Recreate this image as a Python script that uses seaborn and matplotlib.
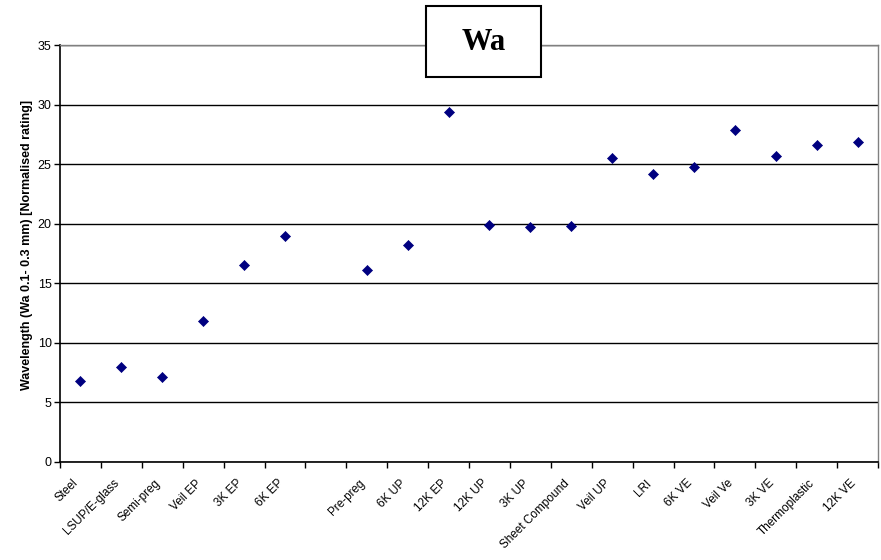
import numpy as np
import pandas as pd
import matplotlib
matplotlib.use("Agg")
import matplotlib.pyplot as plt
import matplotlib.transforms as mtransforms
from matplotlib.patches import Rectangle
import seaborn as sns

# categories in chart order ("" is the empty slot after 6K EP)
categories = ["Steel", "LSUP/E-glass", "Semi-preg", "Veil EP", "3K EP", "6K EP", "",
              "Pre-preg", "6K UP", "12K EP", "12K UP", "3K UP", "Sheet Compound",
              "Veil UP", "LRI", "6K VE", "Veil Ve", "3K VE", "Thermoplastic", "12K VE"]
materials = [c for c in categories if c]
wa_values = [6.8, 8.0, 7.1, 11.8, 16.5, 19.0,
             16.1, 18.2, 29.4, 19.9, 19.7, 19.8,
             25.5, 24.2, 24.8, 27.9, 25.7, 26.6, 26.9]

df = pd.DataFrame({"material": materials, "wa": wa_values})
df["pos"] = [categories.index(m) for m in df["material"]]

sns.set_style("white")
plt.rcParams["font.family"] = ["Liberation Sans", "DejaVu Sans"]
plt.rcParams["text.color"] = "black"
plt.rcParams["xtick.color"] = "black"
plt.rcParams["ytick.color"] = "black"
plt.rcParams["axes.labelcolor"] = "black"

fig = plt.figure(figsize=(8.81, 5.6), dpi=100)
ax = fig.add_axes([60 / 881, 1 - 462 / 560, 818 / 881, 417 / 560])

sns.scatterplot(data=df, x="pos", y="wa", marker="D", s=26, color="#000080",
                edgecolor="#000080", linewidth=0.5, ax=ax, zorder=3, legend=False)

ax.set_xlim(-0.5, len(categories) - 0.5)
ax.set_ylim(0, 35)
ax.set_yticks(np.arange(0, 36, 5))
ax.yaxis.grid(True, color="black", linewidth=1)
ax.set_axisbelow(True)

# labels at category centres, tick marks at category boundaries
ax.set_xticks(np.arange(len(categories)))
ax.set_xticklabels(categories, rotation=45, ha="right", rotation_mode="anchor", fontsize=8.5)
ax.set_xticks(np.arange(len(categories) + 1) - 0.5, minor=True)
ax.tick_params(axis="x", which="major", bottom=True, length=0, pad=11)
ax.tick_params(axis="x", which="minor", bottom=True, length=4, width=1, color="black", direction="out")
ax.tick_params(axis="y", left=True, length=4, width=1, color="black", direction="out", labelsize=9, pad=2)

shift = mtransforms.ScaledTranslation(-8 / 100, 0, fig.dpi_scale_trans)
for lbl in ax.get_xticklabels():
    lbl.set_transform(lbl.get_transform() + shift)

for side in ["left", "bottom"]:
    ax.spines[side].set_color("black")
    ax.spines[side].set_linewidth(1.2)
for side in ["top", "right"]:
    ax.spines[side].set_color("#808080")
    ax.spines[side].set_linewidth(1)

ax.set_xlabel("")
ax.set_ylabel("Wavelength (Wa 0.1- 0.3 mm) [Normalised rating]", fontsize=9, fontweight="bold")
ax.yaxis.set_label_coords(-0.033, 0.52)

# boxed title
fig.patches.append(Rectangle((426 / 881, 1 - 77 / 560), 115 / 881, 71 / 560,
                             transform=fig.transFigure, facecolor="white",
                             edgecolor="black", linewidth=1.5, zorder=5))
fig.text(483.5 / 881, 1 - 42 / 560, "Wa", ha="center", va="center", fontsize=22,
         fontweight="bold", color="black", family=["Liberation Serif", "DejaVu Serif"], zorder=6)

fig.savefig("out.png", dpi=100)
